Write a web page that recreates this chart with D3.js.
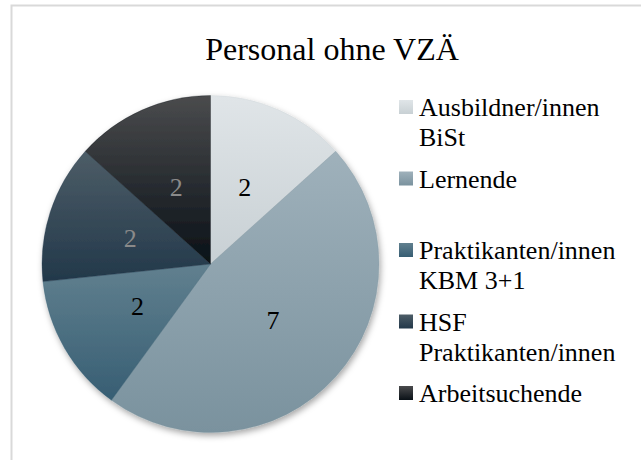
<!DOCTYPE html>
<html>
<head>
<meta charset="utf-8">
<script src="https://cdn.jsdelivr.net/npm/d3@7"></script>
<style>
  body { margin: 0; background: #fff; }
</style>
</head>
<body>
<div id="chart"></div>
<script>
// data
var categories = ["Ausbildner/innen BiSt", "Lernende", "Praktikanten/innen KBM 3+1", "HSF Praktikanten/innen", "Arbeitsuchende"];
var legendLines = [["Ausbildner/innen", "BiSt"], ["Lernende"], ["Praktikanten/innen", "KBM 3+1"], ["HSF", "Praktikanten/innen"], ["Arbeitsuchende"]];
var values = [2, 7, 2, 2, 2];
var title = "Personal ohne VZÄ";

// gradient top / bottom colour per slice
var topColors = ["#e0e5e8", "#9fb1bb", "#61808f", "#4d5d67", "#4a4b4d"];
var bottomColors = ["#c8d0d4", "#7a929e", "#375e73", "#22384a", "#0a1117"];
var labelColors = ["#000", "#000", "#000", "#8a8a8a", "#8a8a8a"];

var font = "Liberation Serif";
var width = 642, height = 460;
var cx = 210.5, cy = 264, radius = 168.5;

var svg = d3.select("#chart").append("svg")
    .attr("width", width)
    .attr("height", height);

var defs = svg.append("defs");

var shadow = defs.append("filter")
    .attr("id", "shadow")
    .attr("x", "-10%").attr("y", "-10%")
    .attr("width", "125%").attr("height", "125%");
shadow.append("feDropShadow")
    .attr("dx", 1.5).attr("dy", 3)
    .attr("stdDeviation", 3)
    .attr("flood-color", "#000")
    .attr("flood-opacity", 0.35);

categories.forEach(function(c, i) {
  var g = defs.append("linearGradient")
      .attr("id", "grad" + i)
      .attr("x1", 0).attr("y1", 0).attr("x2", 0).attr("y2", 1);
  g.append("stop").attr("offset", "0%").attr("stop-color", topColors[i]);
  g.append("stop").attr("offset", "100%").attr("stop-color", bottomColors[i]);
});

// frame
svg.append("path")
    .attr("d", "M11.5," + height + "V5.5H641")
    .attr("fill", "none")
    .attr("stroke", "#d9d9d9")
    .attr("stroke-width", 2);

svg.append("text")
    .attr("x", 332)
    .attr("y", 60)
    .attr("text-anchor", "middle")
    .attr("font-size", 32)
    .attr("font-family", font)
    .attr("fill", "#000")
    .text(title);

var pie = d3.pie().sort(null).value(function(d) { return d; });
var arcs = pie(values);

var arc = d3.arc().innerRadius(0).outerRadius(radius);

var g = svg.append("g")
    .attr("transform", "translate(" + cx + "," + cy + ")");

g.append("g")
    .attr("filter", "url(#shadow)")
  .selectAll("path")
    .data(arcs)
  .enter().append("path")
    .attr("d", arc)
    .attr("fill", function(d, i) { return "url(#grad" + i + ")"; })
    .attr("stroke", function(d, i) { return bottomColors[i]; })
    .attr("stroke-width", 0.3);

g.selectAll(".lbl")
    .data(arcs)
  .enter().append("text")
    .attr("class", "lbl")
    .attr("transform", function(d) { return "translate(" + arc.centroid(d) + ")"; })
    .attr("dy", "0.35em")
    .attr("text-anchor", "middle")
    .attr("font-size", 26)
    .attr("font-family", font)
    .attr("fill", function(d, i) { return labelColors[i]; })
    .text(function(d) { return d.value; });

// legend, items spread evenly
var ly = d3.scaleLinear().domain([0, categories.length - 1]).range([107, 393]);

var legend = svg.selectAll(".legend")
    .data(categories)
  .enter().append("g")
    .attr("class", "legend")
    .attr("transform", function(d, i) { return "translate(399," + ly(i) + ")"; });

legend.append("rect")
    .attr("x", 0).attr("y", -7)
    .attr("width", 14).attr("height", 14)
    .attr("fill", function(d, i) { return "url(#grad" + i + ")"; });

legend.append("text")
    .attr("x", 20)
    .attr("font-size", 26)
    .attr("font-family", font)
    .attr("fill", "#000")
  .selectAll("tspan")
    .data(function(d, i) { return legendLines[i]; })
  .enter().append("tspan")
    .attr("x", 20)
    .attr("y", function(d, j) { return j * 30; })
    .attr("dy", "0.35em")
    .text(function(d) { return d; });
</script>
</body>
</html>
